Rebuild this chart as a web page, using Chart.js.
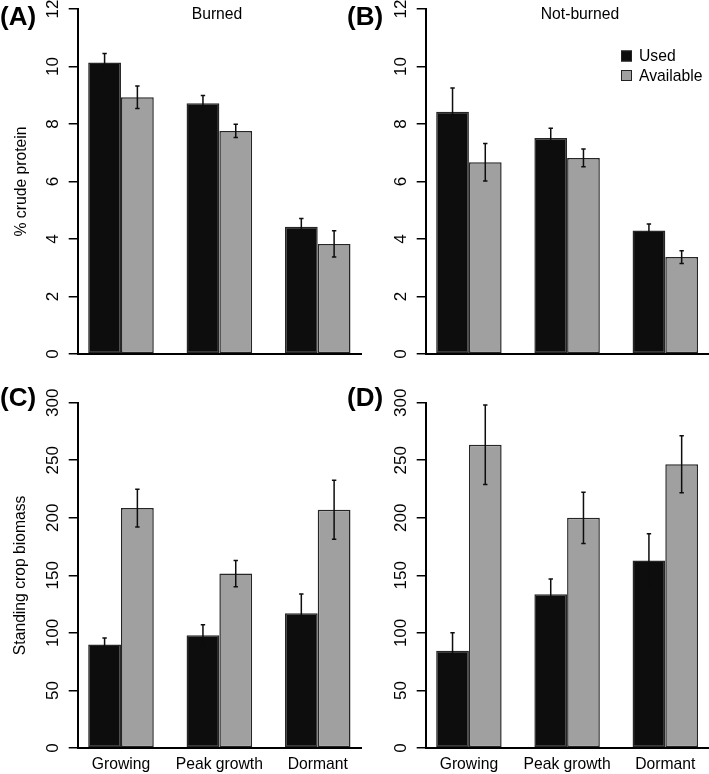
<!DOCTYPE html>
<html lang="en">
<head>
<meta charset="UTF-8">
<title>Crude protein and standing crop biomass</title>
<script src="https://cdn.jsdelivr.net/npm/chart.js"></script>
<style>
  body { margin: 0; background: #fff; }
  #wrap { position: relative; width: 709px; height: 774px; }
  canvas { position: absolute; }
</style>
</head>
<body>
<div id="wrap">
  <canvas id="chartA" width="365" height="380" style="left:0;top:0"></canvas>
  <canvas id="chartB" width="369" height="380" style="left:340px;top:0"></canvas>
  <canvas id="chartC" width="365" height="394" style="left:0;top:380px"></canvas>
  <canvas id="chartD" width="369" height="394" style="left:340px;top:380px"></canvas>
</div>
<script>
const seasons = ['Growing', 'Peak growth', 'Dormant'];
const seriesNames = ['Used', 'Available'];

// % crude protein (means and SE)
const proteinBurnedUsed = [10.14, 8.72, 4.43];
const proteinBurnedUsedErr = [0.31, 0.27, 0.28];
const proteinBurnedAvail = [8.93, 7.76, 3.83];
const proteinBurnedAvailErr = [0.39, 0.23, 0.46];
const proteinNotBurnedUsed = [8.43, 7.51, 4.30];
const proteinNotBurnedUsedErr = [0.82, 0.34, 0.22];
const proteinNotBurnedAvail = [6.67, 6.82, 3.37];
const proteinNotBurnedAvailErr = [0.65, 0.31, 0.22];

// standing crop biomass (means and SE)
const biomassBurnedUsed = [90, 98, 117];
const biomassBurnedUsedErr = [5.5, 9, 16.8];
const biomassBurnedAvail = [208.5, 151.5, 207];
const biomassBurnedAvailErr = [16.4, 11.5, 25.6];
const biomassNotBurnedUsed = [84.5, 133.5, 163];
const biomassNotBurnedUsedErr = [15.6, 13.3, 23.2];
const biomassNotBurnedAvail = [263.5, 200, 246.5];
const biomassNotBurnedAvailErr = [34.6, 22.3, 24.8];

const proteinMax = 12, proteinStep = 2;
const biomassMax = 300, biomassStep = 50;

const FONT = '"Liberation Sans", Arial, sans-serif';
const FS = 15.7;      // labels, titles
const FS_TICK = 17;   // y axis numbers

// error bars on top of each bar
const errorBars = {
  id: 'errorBars',
  afterDatasetsDraw(chart) {
    const ctx = chart.ctx;
    const yScale = chart.scales.y;
    ctx.save();
    ctx.strokeStyle = '#0d0d0d';
    ctx.lineWidth = 1.5;
    chart.data.datasets.forEach((ds, i) => {
      const meta = chart.getDatasetMeta(i);
      meta.data.forEach((bar, j) => {
        const v = ds.data[j].y, e = ds.errors[j];
        const y1 = yScale.getPixelForValue(v + e);
        const y2 = yScale.getPixelForValue(v - e);
        ctx.beginPath();
        ctx.moveTo(bar.x, y1); ctx.lineTo(bar.x, y2);
        ctx.moveTo(bar.x - 2.2, y1); ctx.lineTo(bar.x + 2.2, y1);
        ctx.moveTo(bar.x - 2.2, y2); ctx.lineTo(bar.x + 2.2, y2);
        ctx.stroke();
      });
    });
    ctx.restore();
  }
};

// rotated y tick labels, panel letter, title, legend
function panelDecor(cfg) {
  return {
    id: 'panelDecor',
    afterDraw(chart) {
      const ctx = chart.ctx;
      const area = chart.chartArea;
      const yScale = chart.scales.y;
      ctx.save();
      ctx.fillStyle = '#000';
      ctx.font = FS_TICK + 'px ' + FONT;
      ctx.textAlign = 'center';
      ctx.textBaseline = 'alphabetic';
      yScale.ticks.forEach(t => {
        const y = yScale.getPixelForValue(t.value);
        ctx.save();
        ctx.translate(area.left - 19.5, y);
        ctx.rotate(-Math.PI / 2);
        ctx.fillText(String(t.value), 0, 0);
        ctx.restore();
      });

      ctx.font = 'bold 26px ' + FONT;
      ctx.textAlign = 'left';
      ctx.textBaseline = 'middle';
      ctx.fillText(cfg.letter, cfg.letterX, cfg.letterY);

      if (cfg.title) {
        ctx.font = FS + 'px ' + FONT;
        ctx.textAlign = 'center';
        ctx.fillText(cfg.title, cfg.titleX, cfg.titleY);
      }

      if (cfg.legend) {
        ctx.font = FS + 'px ' + FONT;
        ctx.textAlign = 'left';
        chart.data.datasets.forEach((ds, i) => {
          const cy = cfg.legendY + i * 19.5;
          ctx.fillStyle = ds.backgroundColor;
          ctx.fillRect(cfg.legendX, cy - 5.5, 11, 11);
          ctx.strokeStyle = '#222';
          ctx.lineWidth = 1;
          ctx.strokeRect(cfg.legendX + 0.5, cy - 5, 10, 10);
          ctx.fillStyle = '#000';
          ctx.fillText(ds.label, cfg.legendX + 18, cy + 1);
        });
      }
      ctx.restore();
    }
  };
}

function makePanel(id, p) {
  const toPts = arr => arr.map((v, i) => ({ x: i, y: v }));
  new Chart(document.getElementById(id), {
    type: 'bar',
    data: {
      datasets: [
        { label: seriesNames[0], data: toPts(p.used), errors: p.usedErr,
          backgroundColor: '#0d0d0d', borderColor: '#262626' },
        { label: seriesNames[1], data: toPts(p.avail), errors: p.availErr,
          backgroundColor: '#a0a0a0', borderColor: '#262626' }
      ]
    },
    options: {
      responsive: false,
      animation: false,
      layout: { padding: { left: 0, top: p.padTop, right: p.padRight, bottom: 0 } },
      datasets: {
        bar: { categoryPercentage: 2 / 3, barPercentage: 1, borderWidth: 1.5, borderSkipped: false }
      },
      plugins: { legend: { display: false }, tooltip: { enabled: false } },
      scales: {
        x: {
          type: 'linear',
          min: -0.44,
          max: 2.44,
          offset: false,
          afterBuildTicks: s => { s.ticks = seasons.map((_, i) => ({ value: i })); },
          afterFit: s => { s.height = p.xAxisHeight; },
          ticks: {
            display: p.showX,
            autoSkip: false,
            maxRotation: 0,
            padding: 7,
            color: '#000',
            font: { family: FONT, size: FS },
            callback: v => seasons[v]
          },
          grid: { display: false, drawTicks: false, offset: false },
          border: { display: true, color: '#000', width: 2 }
        },
        y: {
          min: 0,
          max: p.yMax,
          afterFit: s => { s.width = p.yAxisWidth; },
          ticks: { display: false, stepSize: p.yStep },
          grid: { display: true, drawOnChartArea: false, drawTicks: true, tickLength: 9, color: '#000', lineWidth: 1.5 },
          border: { display: true, color: '#000', width: 2 },
          title: {
            display: !!p.yTitle,
            text: p.yTitle || '',
            color: '#000',
            font: { family: FONT, size: FS },
            padding: { top: p.yTitlePad || 0 }
          }
        }
      }
    },
    plugins: [errorBars, panelDecor(p.decor)]
  });
}

makePanel('chartA', {
  used: proteinBurnedUsed, usedErr: proteinBurnedUsedErr,
  avail: proteinBurnedAvail, availErr: proteinBurnedAvailErr,
  yMax: proteinMax, yStep: proteinStep, yTitle: '% crude protein', yTitlePad: 12,
  yAxisWidth: 77.7, padTop: 9, padRight: 4, xAxisHeight: 26, showX: false,
  decor: { letter: '(A)', letterX: 0, letterY: 18, title: 'Burned', titleX: 217, titleY: 15 }
});
makePanel('chartB', {
  used: proteinNotBurnedUsed, usedErr: proteinNotBurnedUsedErr,
  avail: proteinNotBurnedAvail, availErr: proteinNotBurnedAvailErr,
  yMax: proteinMax, yStep: proteinStep,
  yAxisWidth: 85.7, padTop: 9, padRight: 0.5, xAxisHeight: 26, showX: false,
  decor: { letter: '(B)', letterX: 7, letterY: 18, title: 'Not-burned', titleX: 240, titleY: 15,
           legend: true, legendX: 281, legendY: 56 }
});
makePanel('chartC', {
  used: biomassBurnedUsed, usedErr: biomassBurnedUsedErr,
  avail: biomassBurnedAvail, availErr: biomassBurnedAvailErr,
  yMax: biomassMax, yStep: biomassStep, yTitle: 'Standing crop biomass', yTitlePad: 11,
  yAxisWidth: 77.7, padTop: 22.7, padRight: 4, xAxisHeight: 26, showX: true,
  decor: { letter: '(C)', letterX: 0, letterY: 19 }
});
makePanel('chartD', {
  used: biomassNotBurnedUsed, usedErr: biomassNotBurnedUsedErr,
  avail: biomassNotBurnedAvail, availErr: biomassNotBurnedAvailErr,
  yMax: biomassMax, yStep: biomassStep,
  yAxisWidth: 85.7, padTop: 22.7, padRight: 0.5, xAxisHeight: 26, showX: true,
  decor: { letter: '(D)', letterX: 7, letterY: 19 }
});
</script>
</body>
</html>
